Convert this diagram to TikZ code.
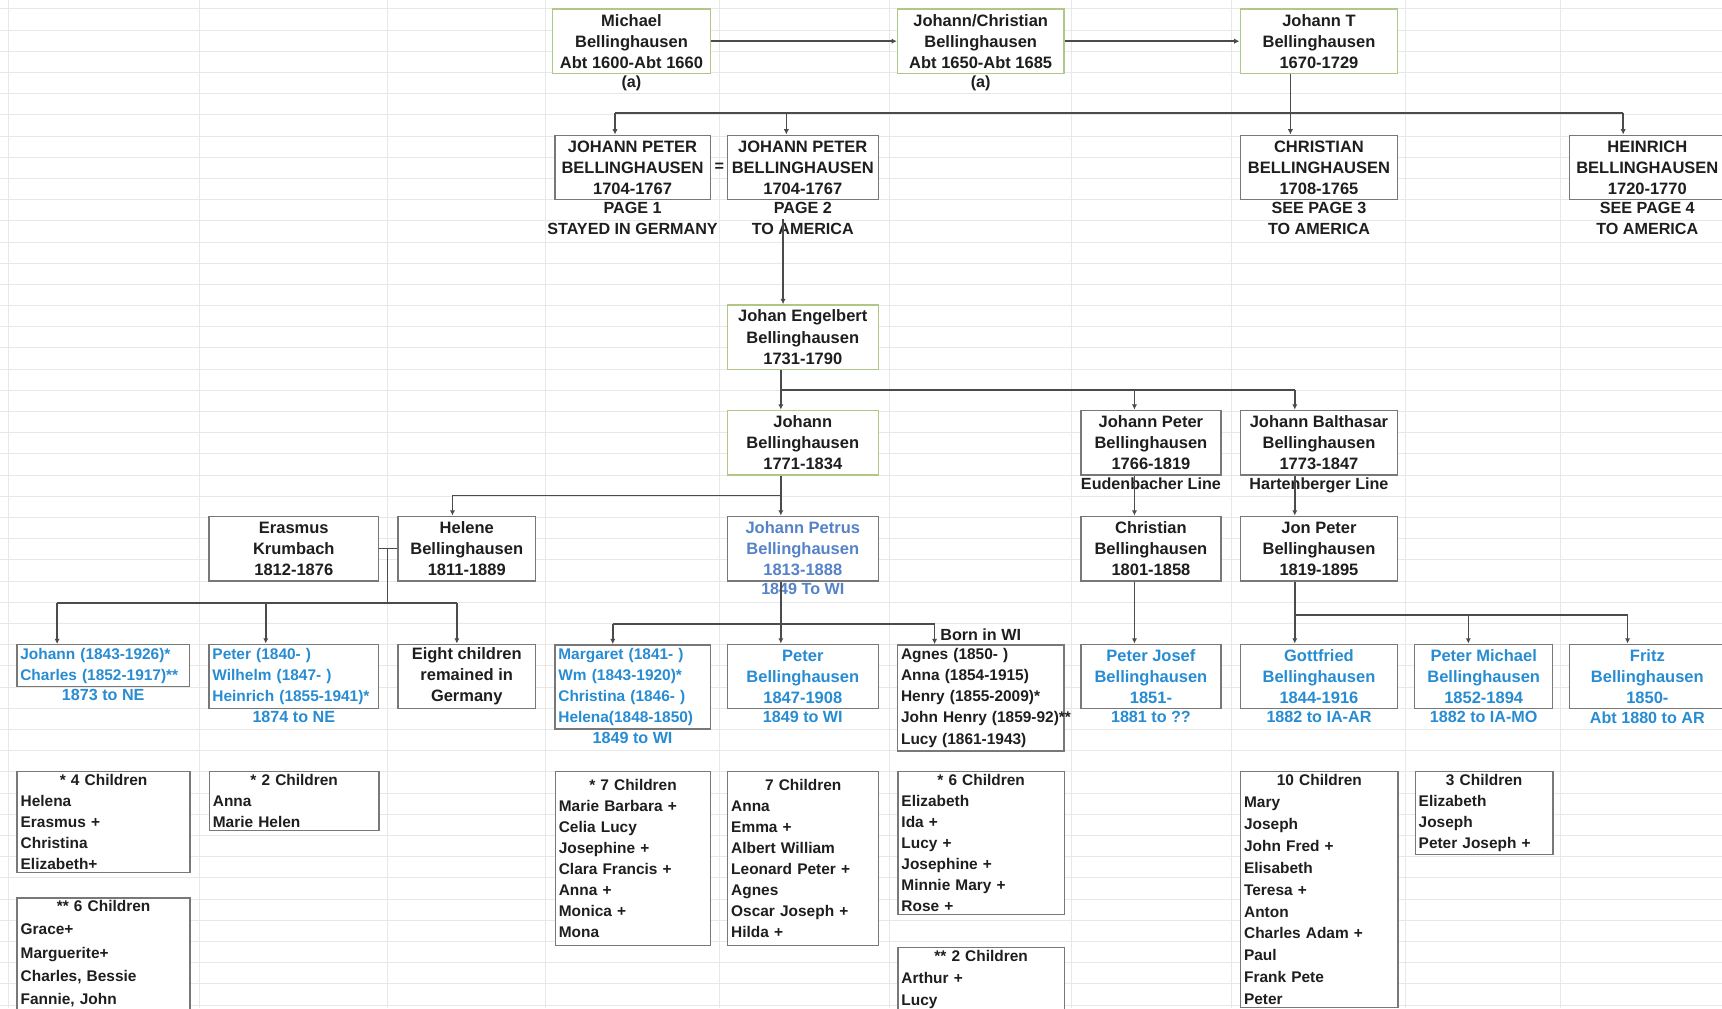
\documentclass[tikz,border=0pt]{standalone}
\usepackage{fontspec}
\setmainfont{Liberation Sans}
\usetikzlibrary{positioning}
\usetikzlibrary{arrows.meta}

\definecolor{gridgray}{RGB}{232,232,232}
\definecolor{boxgray}{RGB}{120,120,120}
\definecolor{boxgreen}{RGB}{175,200,135}
\definecolor{linegray}{RGB}{75,75,75}
\definecolor{kidblue}{RGB}{40,140,210}
\definecolor{petblue}{RGB}{85,130,200}
\definecolor{txt}{RGB}{30,30,30}

\begin{document}
\begin{tikzpicture}[x=0.022cm, y=-0.022cm]

\tikzstyle{box}=[draw=boxgray, fill=white, line width=0.8pt, align=center, inner sep=1pt,
text=txt, font=\fontsize{9.4}{12}\selectfont\bfseries, minimum height=36.8pt]
\tikzstyle{oldbox}=[box, draw=boxgreen]
\tikzstyle{kidbox}=[box, text=kidblue]
\tikzstyle{leftbox}=[align=left, inner xsep=2pt, font=\fontsize{8.8}{12}\selectfont\bfseries]
\tikzstyle{listbox}=[box, leftbox, anchor=north west, inner ysep=1.5pt, minimum height=0pt]
\tikzstyle{note}=[align=center, inner sep=0pt, text=txt, font=\fontsize{9.2}{12}\selectfont\bfseries]
\tikzstyle{kidnote}=[note, text=kidblue]
\tikzstyle{link}=[draw=linegray, line width=0.9pt]
\tikzstyle{linkarrow}=[link, -{Latex[length=3pt, width=3pt]}]

\useasboundingbox (0,0) rectangle (1568,918);
\clip (0,0) rectangle (1568,918);

% sheet grid
\foreach \r in {0,...,47}
  \draw[gridgray, line width=0.5pt] (0,{8+19.3*\r}) -- (1568,{8+19.3*\r});
\foreach \c in {8,182,353,497,655,810,976,1121,1280,1421}
  \draw[gridgray, line width=0.5pt] (\c,0) -- (\c,918);

% oldest generations
\node[oldbox, minimum width=89.8pt] (michael) at (575,37.5) {Michael\\Bellinghausen\\Abt 1600-Abt 1660};
\node[note, below=1pt of michael] (michaelnote) {(a)};
\node[oldbox, minimum width=94.8pt] (jc) at (893,37.5) {Johann/Christian\\Bellinghausen\\Abt 1650-Abt 1685};
\node[note, below=1pt of jc] (jcnote) {(a)};
\node[oldbox, minimum width=89.8pt] (jt) at (1201,37.5) {Johann T\\Bellinghausen\\1670-1729};

\node[box, minimum width=88.6pt] (jp1) at (576,152.5) {JOHANN PETER\\BELLINGHAUSEN\\1704-1767};
\node[note, below=1pt of jp1] (jp1note) {PAGE 1\\STAYED IN GERMANY};
\node[note] (equal) at (655,152.5) {=};
\node[box, minimum width=86.1pt] (jp2) at (731,152.5) {JOHANN PETER\\BELLINGHAUSEN\\1704-1767};
\node[note, below=1pt of jp2] (jp2note) {PAGE 2\\TO AMERICA};
\node[box, minimum width=89.8pt] (chr) at (1201,152.5) {CHRISTIAN\\BELLINGHAUSEN\\1708-1765};
\node[note, below=1pt of chr] (chrnote) {SEE PAGE 3\\TO AMERICA};
\node[box, minimum width=88.6pt] (hein) at (1500,152.5) {HEINRICH\\BELLINGHAUSEN\\1720-1770};
\node[note, below=1pt of hein] (heinnote) {SEE PAGE 4\\TO AMERICA};

\node[oldbox, minimum width=86.1pt] (je) at (731,307) {Johan Engelbert\\Bellinghausen\\1731-1790};

\node[oldbox, minimum width=86.1pt] (jo) at (731,403) {Johann\\Bellinghausen\\1771-1834};
\node[box, minimum width=79.8pt] (jpe) at (1048,403) {Johann Peter\\Bellinghausen\\1766-1819};
\node[note, below=1pt of jpe] (jpenote) {Eudenbacher Line};
\node[box, minimum width=89.8pt] (jb) at (1201,403) {Johann Balthasar\\Bellinghausen\\1773-1847};
\node[note, below=1pt of jb] (jbnote) {Hartenberger Line};

\node[box, minimum width=96.7pt] (eras) at (267.5,499.5) {Erasmus\\Krumbach\\1812-1876};
\node[box, minimum width=78.6pt] (hel) at (425,499.5) {Helene\\Bellinghausen\\1811-1889};
\node[box, text=petblue, minimum width=86.1pt] (petr) at (731,499.5) {Johann Petrus\\Bellinghausen\\1813-1888};
\node[note, text=petblue, below=1pt of petr] (petrnote) {1849 To WI};
\node[box, minimum width=79.8pt] (chri) at (1048,499.5) {Christian\\Bellinghausen\\1801-1858};
\node[box, minimum width=89.8pt] (jon) at (1201,499.5) {Jon Peter\\Bellinghausen\\1819-1895};

% emigrants
\node[kidbox, leftbox, text width=94.5pt, minimum height=23.7pt] (sons1) at (94,606)
  {\mbox{Johann (1843-1926)*}\\\mbox{Charles (1852-1917)**}};
\node[kidnote, below=1pt of sons1] (sons1note) {1873 to NE};
\node[kidbox, leftbox, text width=92.7pt] (sons2) at (267.5,616)
  {Peter (1840- )\\Wilhelm (1847- )\\\mbox{Heinrich (1855-1941)*}};
\node[kidnote, below=1pt of sons2] (sons2note) {1874 to NE};
\node[box, minimum width=78.6pt] (eight) at (425,616) {Eight children\\remained in\\Germany};
\node[kidbox, leftbox, text width=84.6pt, minimum height=48pt] (marg) at (576,625.5)
  {Margaret (1841- )\\Wm (1843-1920)*\\Christina (1846- )\\Helena(1848-1850)};
\node[kidnote, below=1pt of marg] (margnote) {1849 to WI};
\node[kidbox, minimum width=86.1pt] (peter) at (731,616) {Peter\\Bellinghausen\\1847-1908};
\node[kidnote, below=1pt of peter] (peternote) {1849 to WI};
\node[box, leftbox, text width=90.8pt, minimum height=60.5pt] (agnes) at (893,635.5)
  {Agnes (1850- )\\Anna (1854-1915)\\Henry (1855-2009)*\\\mbox{John Henry (1859-92)**}\\Lucy (1861-1943)};
\node[note, above=2pt of agnes] (bornwi) {Born in WI};
\node[kidbox, minimum width=79.8pt] (pjos) at (1048,616) {Peter Josef\\Bellinghausen\\1851-};
\node[kidnote, below=1pt of pjos] (pjosnote) {1881 to ??};
\node[kidbox, minimum width=89.8pt] (gott) at (1201,616) {Gottfried\\Bellinghausen\\1844-1916};
\node[kidnote, below=1pt of gott] (gottnote) {1882 to IA-AR};
\node[kidbox, minimum width=78.6pt] (pmich) at (1351,616) {Peter Michael\\Bellinghausen\\1852-1894};
\node[kidnote, below=1pt of pmich] (pmichnote) {1882 to IA-MO};
\node[kidbox, minimum width=88.6pt] (fritz) at (1500,616) {Fritz\\Bellinghausen\\1850-};
\node[kidnote, below=1pt of fritz] (fritznote) {Abt 1880 to AR};

% their children
\node[listbox, text width=94.5pt] (kids4) at (15,702)
  {\makebox[\linewidth]{* 4 Children}\\Helena\\Erasmus +\\Christina\\Elizabeth+};
\node[listbox, text width=94.5pt, font=\fontsize{8.8}{13.2}\selectfont\bfseries] (kids6) at (15,817)
  {\makebox[\linewidth]{** 6 Children}\\Grace+\\Marguerite+\\Charles, Bessie\\Fannie, John};
\node[listbox, text width=92.7pt] (kids2a) at (190,702)
  {\makebox[\linewidth]{* 2 Children}\\Anna\\Marie Helen};
\node[listbox, text width=84.6pt, minimum height=99pt] (kids7a) at (505,702)
  {\makebox[\linewidth]{* 7 Children}\\Marie Barbara +\\Celia Lucy\\Josephine +\\Clara Francis +\\Anna +\\Monica +\\Mona};
\node[listbox, text width=82.1pt, minimum height=99pt] (kids7b) at (662,702)
  {\makebox[\linewidth]{7 Children}\\Anna\\Emma +\\Albert William\\Leonard Peter +\\Agnes\\Oscar Joseph +\\Hilda +};
\node[listbox, text width=90.8pt] (kids6b) at (817,702)
  {\makebox[\linewidth]{* 6 Children}\\Elizabeth\\Ida +\\Lucy +\\Josephine +\\Minnie Mary +\\Rose +};
\node[listbox, text width=90.8pt, font=\fontsize{8.8}{12.5}\selectfont\bfseries] (kids2b) at (817,862)
  {\makebox[\linewidth]{** 2 Children}\\Arthur +\\Lucy};
\node[listbox, text width=85.8pt, font=\fontsize{8.8}{12.5}\selectfont\bfseries] (kids10) at (1129,702)
  {\makebox[\linewidth]{10 Children}\\Mary\\Joseph\\John Fred +\\Elisabeth\\Teresa +\\Anton\\Charles Adam +\\Paul\\Frank Pete\\Peter};
\node[listbox, text width=74.6pt] (kids3) at (1288,702)
  {\makebox[\linewidth]{3 Children}\\Elizabeth\\Joseph\\Peter Joseph +};

% connectors
\draw[linkarrow] (michael) -- (jc);
\draw[linkarrow] (jc) -- (jt);

\coordinate (bar1) at (1175,103);
\coordinate (bar1l) at (560,103);
\coordinate (bar1m) at (716,103);
\coordinate (bar1r) at (1478,103);
\draw[link] (bar1l) -- (bar1r);
\draw[linkarrow] (jt.south -| bar1) -- (chr.north -| bar1);
\draw[linkarrow] (bar1l) -- (jp1.north -| bar1l);
\draw[linkarrow] (bar1m) -- (jp2.north -| bar1m);
\draw[linkarrow] (bar1r) -- (hein.north -| bar1r);

\coordinate (amline) at (713,0);
\draw[linkarrow] (jp2note.center -| amline) -- (je.north -| amline);

\coordinate (bar3) at (711,355);
\coordinate (bar3m) at (1033,355);
\coordinate (bar3r) at (1179,355);
\draw[linkarrow] (je.south -| bar3) -- (jo.north -| bar3);
\draw[link] (bar3) -- (bar3r);
\draw[linkarrow] (bar3m) -- (jpe.north -| bar3m);
\draw[linkarrow] (bar3r) -- (jb.north -| bar3r);
\draw[linkarrow] (jpe.south -| bar3m) -- (chri.north -| bar3m);
\draw[linkarrow] (jb.south -| bar3r) -- (jon.north -| bar3r);

\coordinate (bar4) at (711,451);
\coordinate (bar4l) at (412,451);
\draw[linkarrow] (jo.south -| bar4) -- (petr.north -| bar4);
\draw[link] (bar4) -- (bar4l);
\draw[linkarrow] (bar4l) -- (hel.north -| bar4l);

% Erasmus and Helene
\draw[link] (eras.east) -- (hel.west);
\coordinate (wed) at (353,499.5);
\coordinate (bar5) at (353,549);
\coordinate (bar5l) at (52,549);
\coordinate (bar5m) at (242,549);
\coordinate (bar5r) at (416,549);
\draw[link] (wed) -- (bar5);
\draw[link] (bar5l) -- (bar5r);
\draw[linkarrow] (bar5l) -- (sons1.north -| bar5l);
\draw[linkarrow] (bar5m) -- (sons2.north -| bar5m);
\draw[linkarrow] (bar5r) -- (eight.north -| bar5r);

\coordinate (bar6) at (711,568);
\coordinate (bar6l) at (558,568);
\coordinate (bar6r) at (851,568);
\draw[linkarrow] (petr.south -| bar6) -- (peter.north -| bar6);
\draw[link] (bar6l) -- (bar6r);
\draw[linkarrow] (bar6l) -- (marg.north -| bar6l);
\draw[linkarrow] (bar6r) -- (agnes.north -| bar6r);

\draw[linkarrow] (chri.south -| bar3m) -- (pjos.north -| bar3m);

\coordinate (bar7) at (1179,560);
\coordinate (bar7m) at (1337,560);
\coordinate (bar7r) at (1482,560);
\draw[linkarrow] (jon.south -| bar7) -- (gott.north -| bar7);
\draw[link] (bar7) -- (bar7r);
\draw[linkarrow] (bar7m) -- (pmich.north -| bar7m);
\draw[linkarrow] (bar7r) -- (fritz.north -| bar7r);

\end{tikzpicture}
\end{document}
